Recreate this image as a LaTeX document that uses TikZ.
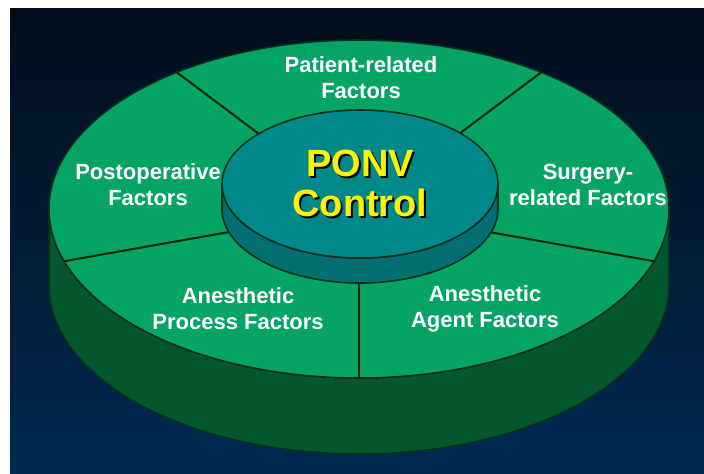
\documentclass[tikz,border=0pt]{standalone}
\usepackage{fontspec}
\setmainfont{Liberation Sans}
\definecolor{bgtop}{HTML}{020D1A}
\definecolor{bgbot}{HTML}{012A52}
\definecolor{facegreen}{HTML}{05A464}
\definecolor{sidegreen}{HTML}{02572D}
\definecolor{hubtop}{HTML}{01898A}
\definecolor{hubside}{HTML}{016F71}
\definecolor{edge}{HTML}{06301C}

\begin{document}
\begin{tikzpicture}[x=0.5pt, y=0.5pt,
  factor/.style={inner sep=0pt, outer sep=0pt, align=center, text=white, font=\bfseries\fontsize{11}{13}\selectfont},
  hubtext/.style={inner sep=0pt, outer sep=0pt, align=center, font=\bfseries\fontsize{19}{20}\selectfont},
  spoke/.style={draw=black!85!green, line width=1pt}]
\useasboundingbox (0,0) rectangle (704,473);
\fill[white] (0,0) rectangle (704,473);
\shade[top color=bgtop, bottom color=bgbot] (10,0) rectangle (704,465);

\coordinate (hub) at (359,264);
\coordinate (rimS) at (359,95);
\coordinate (rimE) at (653.8,211.8);
\coordinate (rimNE) at (541.2,400.7);
\coordinate (rimNW) at (176.8,400.7);
\coordinate (rimW) at (64.2,211.8);

% outer disk
\fill[sidegreen, draw=edge, line width=0.8pt] (49,264) -- (49,188) arc[start angle=180, end angle=360, x radius=310, y radius=169] -- (669,264) arc[start angle=0, end angle=-180, x radius=310, y radius=169] -- cycle;
\fill[facegreen, draw=edge, line width=0.8pt] (hub) ellipse[x radius=310, y radius=169];

\draw[spoke] (hub) -- (rimS);
\draw[spoke] (hub) -- (rimE);
\draw[spoke] (hub) -- (rimNE);
\draw[spoke] (hub) -- (rimNW);
\draw[spoke] (hub) -- (rimW);

% inner disk
\fill[hubside, draw=edge, line width=0.8pt] (222,289) -- (222,264) arc[start angle=180, end angle=360, x radius=138, y radius=74] -- (498,289) arc[start angle=0, end angle=-180, x radius=138, y radius=74] -- cycle;
\fill[hubtop, draw=edge, line width=0.8pt] (360,289) ellipse[x radius=138, y radius=74];

\node[hubtext, text=black] (ponvshadow) at (362,288) {PONV\\Control};
\node[hubtext, text=yellow] (ponv) at (360,290) {PONV\\Control};

\node[factor] (patient) at (361,395) {Patient-related\\Factors};
\node[factor] (postop) at (148,288) {Postoperative\\Factors};
\node[factor] (surgery) at (588,288) {Surgery-\\related Factors};
\node[factor] (process) at (238,164) {Anesthetic\\Process Factors};
\node[factor] (agent) at (485,164) {Anesthetic\\Agent Factors};
\end{tikzpicture}
\end{document}
